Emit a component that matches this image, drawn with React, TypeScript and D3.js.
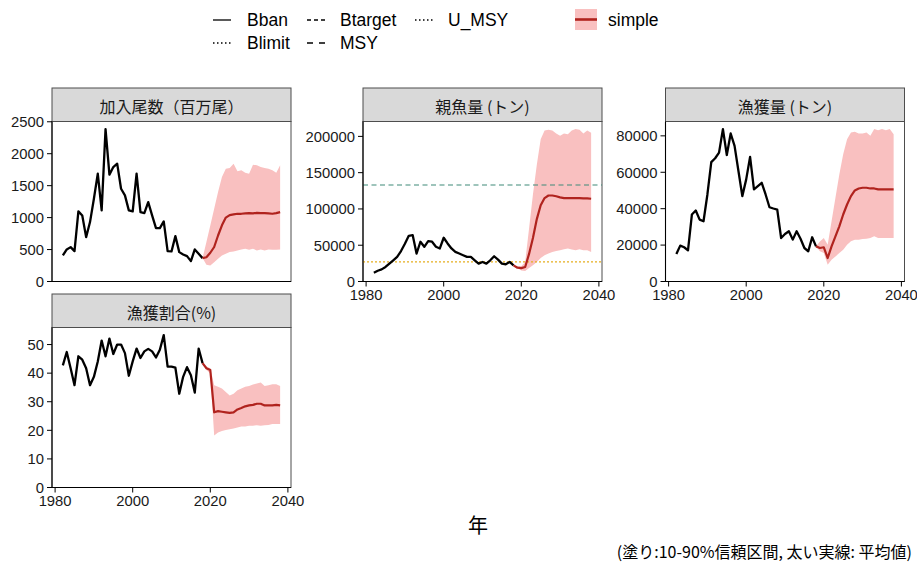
import React from 'react';
import * as d3 from 'd3';

// ---------- data ----------
const histYears = [1982,1983,1984,1985,1986,1987,1988,1989,1990,1991,1992,1993,1994,1995,1996,1997,1998,1999,2000,2001,2002,2003,2004,2005,2006,2007,2008,2009,2010,2011,2012,2013,2014,2015,2016,2017,2018];
const projYears = [2018,2019,2020,2021,2022,2023,2024,2025,2026,2027,2028,2029,2030,2031,2032,2033,2034,2035,2036,2037,2038];

const recHist = [408,502,538,475,1097,1034,695,930,1296,1688,1113,2385,1672,1792,1844,1452,1348,1113,1097,1688,1087,1071,1243,1034,836,836,940,475,470,710,460,423,397,319,502,434,366];
const recMean = [366,380,450,540,720,880,1000,1040,1050,1060,1060,1065,1070,1065,1075,1070,1070,1065,1060,1070,1085];
const recHi = [366,617,878,1139,1400,1635,1766,1776,1844,1724,1740,1703,1688,1829,1818,1792,1776,1766,1740,1703,1818];
const recLo = [366,261,251,303,355,408,434,460,470,486,500,512,496,512,486,500,486,500,496,496,500];

const ssbHist = [12000,14850,16700,20000,24600,29200,33900,42000,52000,63000,64000,38500,54800,47800,55700,54800,47800,45500,60300,52400,45500,40800,38500,36200,33900,33900,29200,24600,26900,24600,29200,34800,30200,24600,23700,26900,22300];
const ssbMean = [22300,19000,18500,20000,38000,60000,86000,105000,115000,118500,118500,117500,116000,115000,115000,115000,115000,114800,114500,114500,114000];
const ssbHi = [22300,21000,21000,27000,73000,120000,161000,196000,208000,209000,208000,204000,201000,204000,203000,208000,210000,209000,204000,208000,205000];
const ssbLo = [22300,18600,15300,14400,18600,22300,27000,32500,36200,38500,40800,42200,43200,44500,45500,44100,43200,44500,43200,43200,40800];
const Btarget = 133000;
const Blimit = 27000;

const catchHist = [15080,19700,18800,17100,36800,39000,34000,33100,47800,65600,67700,70800,83700,69500,81300,74500,60700,46900,56100,68400,50600,52400,54200,47800,40800,40100,39500,23900,26100,27600,23000,27600,23500,18400,16600,24300,19300];
const catchMean = [19300,18400,18800,12900,19300,24800,30300,36800,42300,46900,50000,51100,51500,51500,51100,51100,50600,50600,50600,50600,50600];
const catchHi = [19300,22000,23900,20200,33100,46000,58800,69900,78200,81800,82200,81300,81300,81800,80000,83700,83100,83700,83100,83700,80900];
const catchLo = [19300,16600,15600,9200,12000,13800,15600,17500,20200,22100,23000,23000,23400,23500,23900,24800,23900,23900,23900,23900,23900];

const erHist = [42.7,47.4,41.7,35.8,45.9,44.7,41.7,35.8,38.7,44.1,51.4,45.9,52.1,46.7,50.0,50.0,47.0,39.1,44.1,48.6,45.3,47.6,48.5,47.6,45.5,48.2,53.3,42.3,42.3,41.9,32.8,38.7,42.1,39.3,33.2,48.6,43.5];
const erMean = [43.5,41.7,41.1,26.3,26.7,26.5,26.3,26.1,26.3,27.3,27.8,28.4,28.7,28.9,29.3,29.3,28.7,28.7,28.7,28.9,28.7];
const erHi = [43.5,42.3,41.7,35.8,35.2,34.6,33.4,32.2,32.8,34.0,34.6,35.2,35.5,36.0,36.4,36.7,35.5,35.8,36.1,36.1,35.5];
const erLo = [43.5,41.1,39.9,18.2,19.2,19.8,20.1,20.4,20.6,21.0,21.3,21.3,21.6,21.6,21.8,21.6,21.8,21.9,22.2,22.2,22.2];

const titles = ['加入尾数（百万尾）', '親魚量 (トン)', '漁獲量 (トン)', '漁獲割合(%)'];
const recTicks = [0, 500, 1000, 1500, 2000, 2500];
const ssbTicks = [0, 50000, 100000, 150000, 200000];
const catchTicks = [0, 20000, 40000, 60000, 80000];
const erTicks = [0, 10, 20, 30, 40, 50];
const xTicks = [1980, 2000, 2020, 2040];

const legendLines = ['Bban', 'Btarget', 'U_MSY', 'Blimit', 'MSY'];
const legendFill = 'simple';
const xTitle = '年';
const note = '(塗り:10-90%信頼区間, 太い実線: 平均値)';

// ---------- layout ----------
const W = 917, H = 565;
const PW = 239, PH = 160, SH = 33.5;
const colLeft = [52, 363, 665.5];
const rowTop = [121.5, 327.5];
const xDomain = [1979.2, 2040.8];

const RIBBON = '#F9C0C0';
const MEANC = '#B0231E';
const TICKF = "'Liberation Sans', Arial, sans-serif";
const JPF = "'Noto Sans CJK JP', 'Noto Sans', sans-serif";
const TFS = 14.8;

type P = {
  title: string; hist: number[]; mean: number[]; hi: number[]; lo: number[];
  ticks: number[]; col: number; row: number; xAxis: boolean; hlines?: { v: number; color: string; dash: string }[];
};

const panels: P[] = [
  { title: titles[0], hist: recHist, mean: recMean, hi: recHi, lo: recLo, ticks: recTicks, col: 0, row: 0, xAxis: false },
  { title: titles[1], hist: ssbHist, mean: ssbMean, hi: ssbHi, lo: ssbLo, ticks: ssbTicks, col: 1, row: 0, xAxis: true,
    hlines: [{ v: Btarget, color: '#3F8A78', dash: '5,3.5' }, { v: Blimit, color: '#E6AE1E', dash: '2,2' }] },
  { title: titles[2], hist: catchHist, mean: catchMean, hi: catchHi, lo: catchLo, ticks: catchTicks, col: 2, row: 0, xAxis: true },
  { title: titles[3], hist: erHist, mean: erMean, hi: erHi, lo: erLo, ticks: erTicks, col: 0, row: 1, xAxis: true },
];

function Panel({ p }: { p: P }) {
  const left = colLeft[p.col];
  const top = rowTop[p.row];
  const x = d3.scaleLinear().domain(xDomain).range([left, left + PW]);
  const maxV = d3.max([...p.hist, ...p.hi, ...(p.hlines ? p.hlines.map(h => h.v) : [])]) as number;
  const y = d3.scaleLinear().domain([0, maxV * 1.05]).range([top + PH, top]);

  const histPts = histYears.map((yr, i) => [yr, p.hist[i]] as [number, number]);
  const projPts = projYears.map((yr, i) => ({ yr, m: p.mean[i], lo: p.lo[i], hi: p.hi[i] }));
  const line = d3.line<[number, number]>().x(d => x(d[0])).y(d => y(d[1]));
  const area = d3.area<{ yr: number; lo: number; hi: number }>().x(d => x(d.yr)).y0(d => y(d.lo)).y1(d => y(d.hi));
  const mline = d3.line<{ yr: number; m: number }>().x(d => x(d.yr)).y(d => y(d.m));

  return (
    <g>
      <rect x={left} y={top - SH} width={PW} height={SH} fill="#D9D9D9" stroke="#4D4D4D" strokeWidth={1} />
      <text x={left + PW / 2} y={top - SH / 2 + 1} textAnchor="middle" dominantBaseline="central"
        fontFamily={JPF} fontSize={16} fill="#1A1A1A">{p.title}</text>
      <rect x={left} y={top} width={PW} height={PH} fill="#FFFFFF" stroke="#4D4D4D" strokeWidth={1} />
      <path d={area(projPts) || ''} fill={RIBBON} stroke="none" />
      {p.hlines && p.hlines.map((h, i) => (
        <line key={i} x1={left} x2={left + PW} y1={y(h.v)} y2={y(h.v)} stroke={h.color} strokeWidth={1.2} strokeDasharray={h.dash} />
      ))}
      <path d={line(histPts) || ''} fill="none" stroke="#000" strokeWidth={2.3} strokeLinejoin="round" />
      <path d={mline(projPts) || ''} fill="none" stroke={MEANC} strokeWidth={2.2} strokeLinejoin="round" />
      <line x1={left} x2={left} y1={top} y2={top + PH} stroke="#000" strokeWidth={1.1} />
      <line x1={left} x2={left + PW} y1={top + PH} y2={top + PH} stroke="#000" strokeWidth={1.1} />
      {p.ticks.map(t => (
        <g key={t}>
          <line x1={left - 5} x2={left} y1={y(t)} y2={y(t)} stroke="#000" strokeWidth={1} />
          <text x={left - 8} y={y(t)} dy="0.36em" textAnchor="end" fontFamily={TICKF} fontSize={TFS} fill="#1A1A1A">{String(t)}</text>
        </g>
      ))}
      {p.xAxis && xTicks.map(t => (
        <g key={t}>
          <line x1={x(t)} x2={x(t)} y1={top + PH} y2={top + PH + 5} stroke="#000" strokeWidth={1} />
          <text x={x(t)} y={top + PH + 18} textAnchor="middle" fontFamily={TICKF} fontSize={TFS} fill="#1A1A1A">{t}</text>
        </g>
      ))}
    </g>
  );
}

function Legend() {
  const keys = [
    { label: legendLines[0], dash: undefined, kx: 213, tx: 247, y: 20 },
    { label: legendLines[1], dash: '4,3', kx: 307, tx: 340, y: 20 },
    { label: legendLines[2], dash: '1.5,2.5', kx: 415, tx: 448, y: 20 },
    { label: legendLines[3], dash: '1.5,2.5', kx: 213, tx: 247, y: 43 },
    { label: legendLines[4], dash: '6,6', kx: 307, tx: 340, y: 43 },
  ];
  return (
    <g>
      {keys.map(k => (
        <g key={k.label}>
          <line x1={k.kx} x2={k.kx + 18} y1={k.y} y2={k.y} stroke="#000" strokeWidth={1.3} strokeDasharray={k.dash} />
          <text x={k.tx} y={k.y} dy="0.36em" fontFamily={TICKF} fontSize={17.5} fill="#000">{k.label}</text>
        </g>
      ))}
      <rect x={575} y={9} width={22} height={21} fill={RIBBON} />
      <line x1={575} x2={597} y1={19.5} y2={19.5} stroke={MEANC} strokeWidth={2.6} />
      <text x={608} y={20} dy="0.36em" fontFamily={TICKF} fontSize={17.5} fill="#000">{legendFill}</text>
    </g>
  );
}

export default function App() {
  return (
    <svg width={W} height={H} style={{ position: 'absolute', left: 0, top: 0, background: '#fff' }}>
      <rect x={0} y={0} width={W} height={H} fill="#fff" />
      <Legend />
      {panels.map((p, i) => <Panel key={i} p={p} />)}
      <text x={478} y={533} textAnchor="middle" fontFamily={JPF} fontSize={20} fill="#000">{xTitle}</text>
      <text x={912} y={558} textAnchor="end" fontFamily={JPF} fontSize={16} fill="#000">{note}</text>
    </svg>
  );
}
